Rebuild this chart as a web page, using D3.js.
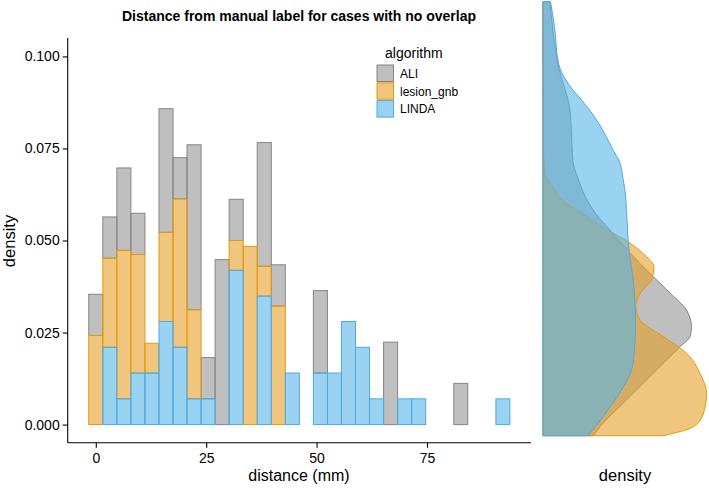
<!DOCTYPE html>
<html>
<head>
<meta charset="utf-8">
<script src="https://cdn.jsdelivr.net/npm/d3@7"></script>
<style>
  html, body { margin: 0; padding: 0; background: #fff; }
  svg { display: block; font-family: "Liberation Sans", Arial, Helvetica, sans-serif; }
</style>
</head>
<body>
<svg id="chart" width="709" height="489"></svg>
<script>
// ---------------- data ----------------
const algorithms = ["ALI", "lesion_gnb", "LINDA"];
const binCenters = [0, 3.18, 6.36, 9.54, 12.72, 15.90, 19.07, 22.25, 25.43, 28.61,
  31.79, 34.97, 38.15, 41.33, 44.51, 47.69, 50.86, 54.04, 57.22, 60.40,
  63.58, 66.76, 69.94, 73.12, 76.30, 79.48, 82.65, 85.83, 89.01, 92.19];
const binWidth = 3.179;
const densALI = [0.0112, 0.0112, 0.0224, 0.0112, 0, 0.0336, 0.0112, 0.0448, 0.0112, 0.0448,
  0.0112, 0, 0.0336, 0.0112, 0, 0, 0.0224, 0, 0, 0,
  0, 0.0224, 0, 0, 0, 0, 0.0112, 0, 0, 0];
const densLesion = [0.0242, 0.0242, 0.0403, 0.0322, 0.0081, 0.0242, 0.0403, 0.0242, 0, 0,
  0.0081, 0.0484, 0.0081, 0.0322, 0, 0, 0, 0, 0, 0,
  0, 0, 0, 0, 0, 0, 0, 0, 0, 0];
const densLINDA = [0, 0.0210, 0.0070, 0.0140, 0.0140, 0.0280, 0.0210, 0.0070, 0.0070, 0,
  0.0419, 0, 0.0349, 0, 0.0140, 0, 0.0140, 0.0140, 0.0280, 0.0210,
  0.0070, 0, 0.0070, 0.0070, 0, 0, 0, 0, 0, 0.0070];
const yTicks = [0, 0.025, 0.05, 0.075, 0.1];
const xTicks = [0, 25, 50, 75];

// marginal density curves: [distance, density]
const margALI = [[0, 0.0101], [1.91, 0.0114], [7.58, 0.0167], [13.95, 0.0227], [18.90, 0.0274],
  [21.03, 0.0294], [23.15, 0.0297], [26.70, 0.0287], [30.31, 0.0254], [35.20, 0.0207],
  [38.81, 0.0174], [43.33, 0.0137], [46.18, 0.0113], [49.70, 0.0090], [54.67, 0.0070],
  [58.20, 0.0060], [64.30, 0.0057], [69.18, 0.0054], [78.38, 0.0031], [92.19, 0.0014]];
const margLesion = [[0, 0.0241], [1.91, 0.0301], [4.76, 0.0321], [9.01, 0.0327], [13.25, 0.0314],
  [17.50, 0.0287], [21.03, 0.0241], [24.58, 0.0194], [27.40, 0.0186], [30.25, 0.0194],
  [33.07, 0.0217], [35.90, 0.0222], [38.02, 0.0207], [41.21, 0.0170], [44.05, 0.0123],
  [46.88, 0.0083], [49.70, 0.0043], [53.25, 0.0017], [56.07, 0.0003], [62, 0.0001], [92.19, 0]];
const margLINDA = [[0, 0.0090], [2.63, 0.0110], [5.46, 0.0130], [9.71, 0.0157], [13.95, 0.0177],
  [18.20, 0.0183], [23.87, 0.0185], [29.89, 0.0183], [33.43, 0.0180], [36.96, 0.0175],
  [40.51, 0.0171], [44.05, 0.0169], [47.58, 0.0167], [51.13, 0.0165], [54.67, 0.0160],
  [58.20, 0.0153], [60.68, 0.0140], [64.23, 0.0123], [67.76, 0.0103], [71.30, 0.0077],
  [74.85, 0.0050], [79.10, 0.0031], [86.87, 0.0023], [92.19, 0.0015]];

// ---------------- styles ----------------
const lineColor = { ALI: "#858585", lesion_gnb: "#E39A0E", LINDA: "#4FA9E3" };
const baseColor = { ALI: "#959595", lesion_gnb: "#E6A028", LINDA: "#56B4E9" };
const fillAlpha = 0.6;

const svg = d3.select("#chart");

// ---------------- main histogram ----------------
const x = d3.scaleLinear().domain([-6.36, 98.55]).range([67.7, 531]);
const y = d3.scaleLinear().domain([-0.005, 0.105]).range([443, 38]);

const rows = binCenters.map((c, i) => ({
  center: c, ALI: densALI[i], lesion_gnb: densLesion[i], LINDA: densLINDA[i]
}));
const stackGen = d3.stack().keys(["LINDA", "lesion_gnb", "ALI"]);
const layers = stackGen(rows);
const drawOrder = ["ALI", "lesion_gnb", "LINDA"];

drawOrder.forEach(key => {
  const layer = layers.find(l => l.key === key);
  svg.append("g").selectAll("rect")
    .data(layer.filter(d => (d[1] - d[0]) > 0 ||
        (key === "ALI" && d.data.ALI + d.data.lesion_gnb + d.data.LINDA === 0)))
    .join("rect")
    .attr("x", d => x(d.data.center - binWidth / 2))
    .attr("width", d => x(d.data.center + binWidth / 2) - x(d.data.center - binWidth / 2))
    .attr("y", d => y(d[1]))
    .attr("height", d => y(d[0]) - y(d[1]))
    .attr("fill", baseColor[key])
    .attr("fill-opacity", fillAlpha)
    .attr("stroke", lineColor[key])
    .attr("stroke-width", 1);
});

// axes
const yAxis = d3.axisLeft(y).tickValues(yTicks).tickFormat(d3.format(".3f")).tickSize(5).tickPadding(3);
const xAxis = d3.axisBottom(x).tickValues(xTicks).tickFormat(d3.format("d")).tickSize(5).tickPadding(5);

const gy = svg.append("g").attr("transform", "translate(67.7,0)").call(yAxis);
const gx = svg.append("g").attr("transform", "translate(0,442.7)").call(xAxis);
[gy, gx].forEach(g => {
  g.select(".domain").attr("stroke", "#000").attr("stroke-width", 1.1);
  g.selectAll(".tick line").attr("stroke", "#000").attr("stroke-width", 1.1);
  g.selectAll(".tick text").attr("fill", "#000").style("font-size", "14px")
    .style("font-family", "'Liberation Sans', Arial, sans-serif");
});
gy.select(".domain").attr("d", "M0,38V442.7");
gx.select(".domain").attr("d", "M67.7,0H531");

// titles
svg.append("text").attr("x", 299).attr("y", 21).attr("text-anchor", "middle")
  .style("font-size", "14px").style("font-weight", "bold").attr("fill", "#000")
  .text("Distance from manual label for cases with no overlap");
svg.append("text").attr("x", 299).attr("y", 481).attr("text-anchor", "middle")
  .style("font-size", "16px").attr("fill", "#000").text("distance (mm)");
svg.append("text").attr("transform", "translate(15,241) rotate(-90)").attr("text-anchor", "middle")
  .style("font-size", "16.5px").attr("fill", "#000").text("density");

// legend
const lg = svg.append("g");
lg.append("text").attr("x", 385).attr("y", 58).style("font-size", "14px").attr("fill", "#000").text("algorithm");
algorithms.forEach((a, i) => {
  const ky = 65 + i * 17.8;
  lg.append("rect").attr("x", 377).attr("y", ky).attr("width", 16.5).attr("height", 16.5)
    .attr("fill", baseColor[a]).attr("fill-opacity", fillAlpha)
    .attr("stroke", lineColor[a]).attr("stroke-width", 1);
  lg.append("text").attr("x", 400).attr("y", ky + 8.5).attr("dy", "0.35em")
    .style("font-size", "12px").attr("fill", "#000").text(a);
});

// ---------------- marginal density ----------------
const xm = d3.scaleLinear().domain([0, 0.0334]).range([543, 710]);
const ym = d3.scaleLinear().domain([0, 92.19]).range([435.7, 1.7]);
const area = d3.area()
  .y(d => ym(d[0]))
  .x0(xm(0))
  .x1(d => xm(d[1]))
  .curve(d3.curveMonotoneY);

const margSeries = [["ALI", margALI], ["lesion_gnb", margLesion], ["LINDA", margLINDA]];
margSeries.forEach(([key, pts]) => {
  svg.append("path").datum(pts)
    .attr("d", area)
    .attr("fill", baseColor[key]).attr("fill-opacity", fillAlpha)
    .attr("stroke", lineColor[key]).attr("stroke-width", 1)
    .attr("stroke-linejoin", "round");
});

svg.append("text").attr("x", 625).attr("y", 481).attr("text-anchor", "middle")
  .style("font-size", "16.5px").attr("fill", "#000").text("density");
</script>
</body>
</html>
